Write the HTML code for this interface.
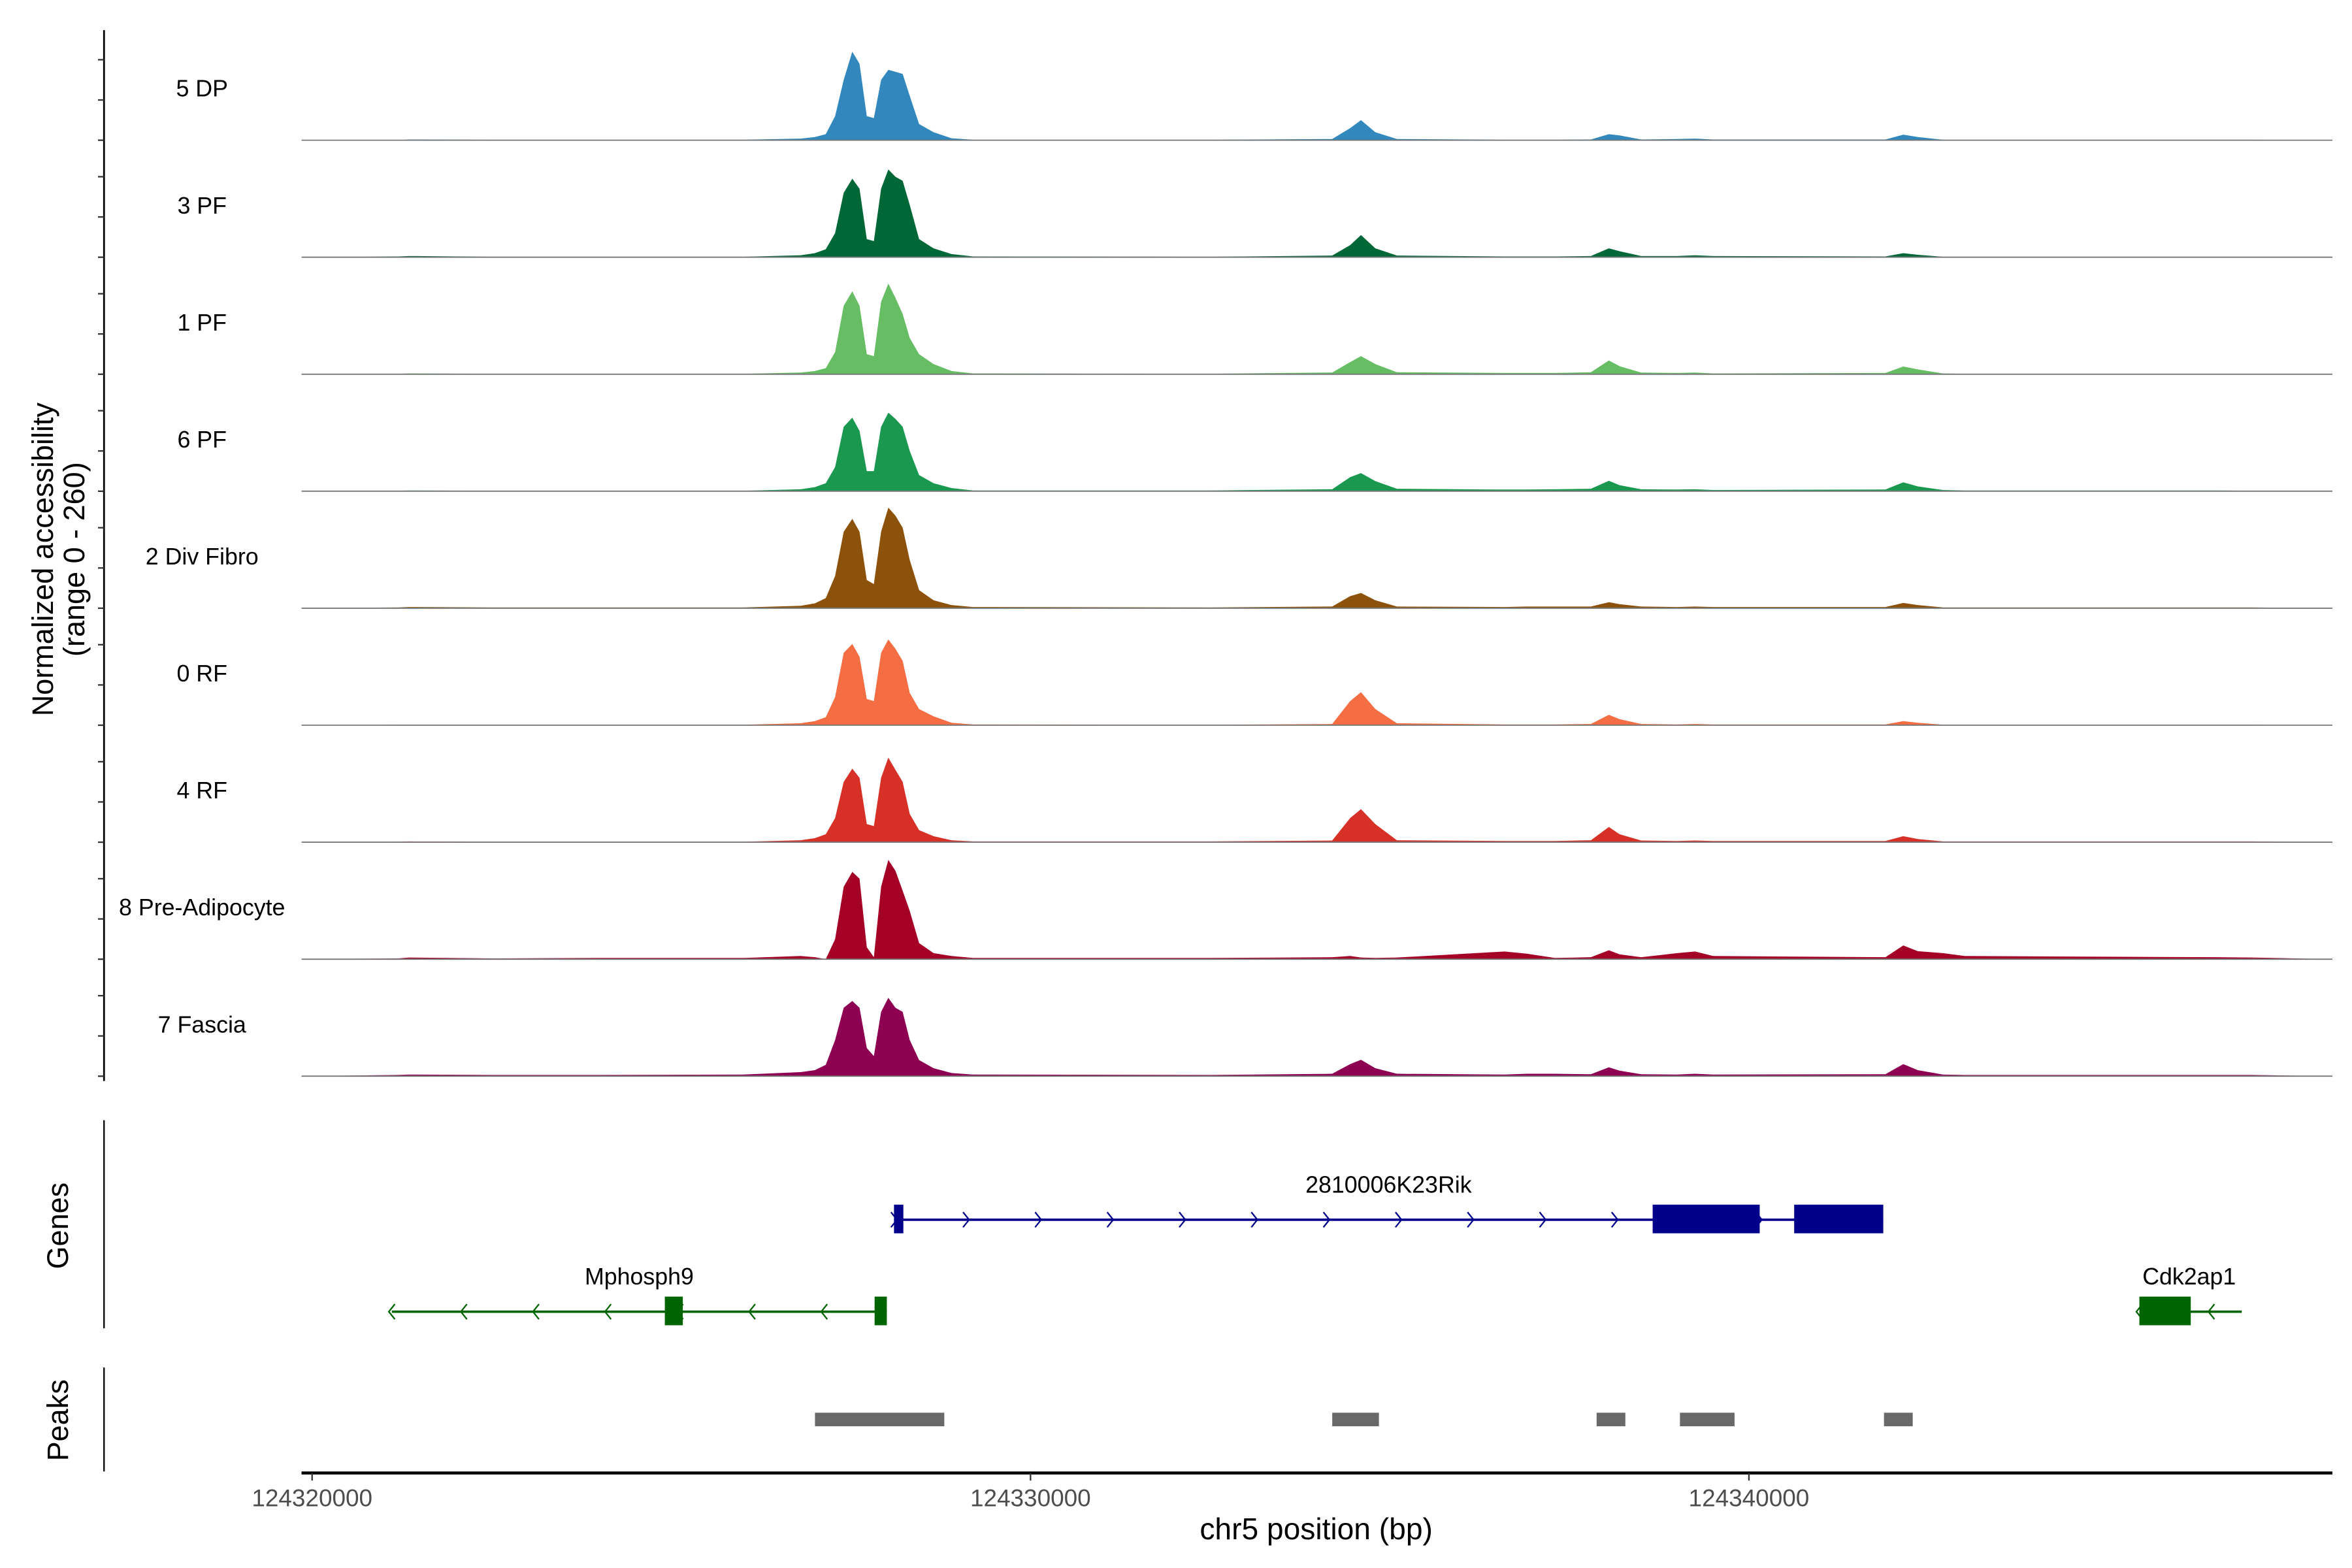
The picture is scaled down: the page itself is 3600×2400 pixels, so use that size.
<!DOCTYPE html>
<html><head><meta charset="utf-8"><style>
html,body{margin:0;padding:0;background:#fff;}
svg{display:block;font-family:"Liberation Sans",Arial,sans-serif;}
</style></head><body>
<svg id="chart" width="3600" height="2400" viewBox="0 0 1560 1040" xmlns="http://www.w3.org/2000/svg">
<g id="tracks"></g>
<g id="axes">
<line x1="69" y1="20" x2="69" y2="717" stroke="#000" stroke-width="1.2"/>
<text transform="translate(35,371) rotate(-90)" text-anchor="middle" font-size="19.5">Normalized accessibility</text>
<text transform="translate(56,371) rotate(-90)" text-anchor="middle" font-size="19.5">(range 0 - 260)</text>
<line x1="69" y1="743" x2="69" y2="881" stroke="#000" stroke-width="1"/>
<text transform="translate(45,813) rotate(-90)" text-anchor="middle" font-size="19.5">Genes</text>
<line x1="69" y1="907" x2="69" y2="976" stroke="#000" stroke-width="1"/>
<text transform="translate(45,942) rotate(-90)" text-anchor="middle" font-size="19.5">Peaks</text>
<line x1="200" y1="977" x2="1547" y2="977" stroke="#000" stroke-width="2"/>
<text x="873" y="1021" text-anchor="middle" font-size="20">chr5 position (bp)</text>
</g>
<g id="genes"></g>
<g id="peaks"></g>
</svg>
<script>
var NS="http://www.w3.org/2000/svg";
var trackNames=["5 DP","3 PF","1 PF","6 PF","2 Div Fibro","0 RF","4 RF","8 Pre-Adipocyte","7 Fascia"];
var trackColors=["#3288BD","#006837","#66BD63","#1A9850","#8C510A","#F46D43","#D73027","#A50026","#8E0152"];
var positionsKb=[-0.15,1.2,1.35,2.5,4.0,6.0,6.8,7.0,7.15,7.28,7.4,7.52,7.62,7.72,7.82,7.92,8.02,8.12,8.22,8.32,8.45,8.65,8.9,9.2,12.5,14.2,14.45,14.6,14.8,15.1,16.6,16.9,17.3,17.8,18.05,18.2,18.5,19.0,19.25,19.5,21.9,22.15,22.35,22.7,23.0,26.5,27.0,28.1];
var valsDP=[0,0,2,1,1,1,4,8,15,60,150,220,190,60,55,150,175,170,165,110,40,20,5,1,1,3,30,50,20,3,1,1,1,2,15,12,2,3,4,2,2,14,8,1,1,1,1,0];
var vals3PF=[0,2,3,1,1,1,5,10,20,60,160,195,170,45,40,170,218,200,190,130,45,22,8,2,1,4,30,55,22,4,2,2,2,3,22,15,3,3,5,3,2,10,6,1,1,1,1,0];
var vals1PF=[0,1,2,1,1,1,4,8,15,55,170,206,170,50,45,180,225,190,150,90,50,25,8,2,1,4,30,45,25,5,3,3,3,5,34,20,4,3,4,2,3,19,12,2,1,1,1,0];
var vals6PF=[0,1,2,1,1,1,5,10,20,60,160,183,150,50,50,160,195,180,160,100,40,20,8,2,2,5,35,45,25,6,4,4,5,6,26,15,5,4,5,3,4,22,12,3,2,2,1,0];
var vals2Div=[0,2,3,2,2,2,6,12,25,80,190,222,190,70,60,190,250,230,200,120,45,20,8,3,2,4,30,38,20,4,3,4,4,4,15,10,4,3,4,3,3,13,8,2,2,2,2,0];
var vals0RF=[0,1,1,1,1,1,5,10,20,70,180,202,170,65,60,180,213,190,160,80,40,22,6,2,1,3,60,82,40,5,2,2,2,3,26,15,3,2,3,2,2,10,6,1,1,1,1,0];
var vals4RF=[0,1,2,1,1,1,5,10,20,60,150,183,160,45,40,160,210,180,150,70,30,15,5,2,2,4,60,82,45,5,3,3,3,5,38,20,4,3,4,3,3,15,8,2,2,2,2,0];
var vals8PA=[0,2,4,2,3,3,8,5,0,50,180,217,200,30,5,180,247,220,170,120,40,15,8,3,3,5,8,4,3,4,19,14,3,5,22,12,5,15,19,8,5,34,20,15,8,5,4,0];
var vals7Fa=[0,3,4,3,3,4,10,15,28,90,170,187,170,70,50,160,195,170,160,90,40,20,8,4,3,6,30,41,20,6,4,6,6,5,22,14,5,4,6,4,5,30,15,4,3,3,3,0];
var trackValues=[valsDP,vals3PF,vals1PF,vals6PF,vals2Div,vals0RF,vals4RF,vals8PA,vals7Fa];
var yMax=260;
var xTicks=[124320000,124330000,124340000];
var peakStarts=[124327000,124334200,124337880,124339040,124341880];
var peakEnds=[124328800,124334850,124338280,124339800,124342280];
var gene1ExonStarts=[124328100,124338660,124340630];
var gene1ExonEnds=[124328230,124340150,124341870];
var gene2ExonStarts=[124324910,124327830];
var gene2ExonEnds=[124325160,124328000];
var gene3ExonStarts=[124345435];
var gene3ExonEnds=[124346150];

function xScale(bp){return 207+(bp-124320000)*476.5/10000;}
function xKb(kb){return xScale(124320000+kb*1000);}
var trackH=69.4, base0=93, step=77.6;
function yScale(v,i){return base0+i*step - v/yMax*trackH;}

var tg=document.getElementById('tracks');
var ax=document.getElementById('axes');
for(var i=0;i<trackNames.length;i++){
  var g=document.createElementNS(NS,'g');
  
  
  var pts=xKb(positionsKb[0]).toFixed(1)+','+yScale(0,i).toFixed(1);
  var vals=trackValues[i];
  for(var j=0;j<positionsKb.length;j++){pts+=' '+xKb(positionsKb[j]).toFixed(1)+','+yScale(vals[j],i).toFixed(1);}
  pts+=' '+xKb(positionsKb[positionsKb.length-1]).toFixed(1)+','+yScale(0,i).toFixed(1);
  var poly=document.createElementNS(NS,'polygon');
  poly.setAttribute('points',pts);
  poly.setAttribute('fill',trackColors[i]);
  
  
  g.appendChild(poly);
  var bl=document.createElementNS(NS,'line');
  bl.setAttribute('x1',200);bl.setAttribute('x2',1547);
  bl.setAttribute('y1',yScale(0,i));bl.setAttribute('y2',yScale(0,i));
  bl.setAttribute('stroke','#777');bl.setAttribute('stroke-width','0.8');
  
  
  g.appendChild(bl);
  var t=document.createElementNS(NS,'text');
  t.setAttribute('x',134);t.setAttribute('y',yScale(0,i)-29);
  t.setAttribute('text-anchor','middle');t.setAttribute('font-size','15.5');
  t.textContent=trackNames[i];
  
  
  g.appendChild(t);
  tg.appendChild(g);
  for(var k=0;k<3;k++){
    var tk=document.createElementNS(NS,'line');
    var ty=yScale(k*100,i);
    tk.setAttribute('x1',65);tk.setAttribute('x2',69);tk.setAttribute('y1',ty);tk.setAttribute('y2',ty);
    tk.setAttribute('stroke','#333');tk.setAttribute('stroke-width','1');
    
    
    ax.appendChild(tk);
  }
}
for(var i=0;i<xTicks.length;i++){
  var x=xScale(xTicks[i]);
  var tk=document.createElementNS(NS,'line');
  tk.setAttribute('x1',x);tk.setAttribute('x2',x);tk.setAttribute('y1',977);tk.setAttribute('y2',982);
  tk.setAttribute('stroke','#333');
  
  
  ax.appendChild(tk);
  var t=document.createElementNS(NS,'text');
  t.setAttribute('x',x);t.setAttribute('y',999);t.setAttribute('text-anchor','middle');
  t.setAttribute('font-size','16');t.setAttribute('fill','#4D4D4D');
  t.textContent=xTicks[i];
  
  
  ax.appendChild(t);
}
var pg=document.getElementById('peaks');
for(var i=0;i<peakStarts.length;i++){
  var r=document.createElementNS(NS,'rect');
  var x1=xScale(peakStarts[i]),x2=xScale(peakEnds[i]);
  r.setAttribute('x',x1);r.setAttribute('width',x2-x1);r.setAttribute('y',937);r.setAttribute('height',9);
  r.setAttribute('fill','#696969');
  
  
  pg.appendChild(r);
}
var gg=document.getElementById('genes');
function drawGene(name,start,end,y,color,starts,ends,dir,label,lx,arrowStep){
  var g=document.createElementNS(NS,'g');
  
  
  var x1=xScale(start),x2=xScale(end);
  var l=document.createElementNS(NS,'line');
  l.setAttribute('x1',x1);l.setAttribute('x2',x2);l.setAttribute('y1',y);l.setAttribute('y2',y);
  l.setAttribute('stroke',color);l.setAttribute('stroke-width','1.6');
  
  
  g.appendChild(l);
  for(var ax2=x1;ax2<=x2+1;ax2+=arrowStep){
    var p=document.createElementNS(NS,'path');
    var d=dir>0?'M'+(ax2-2)+','+(y-5)+' L'+(ax2+2)+','+y+' L'+(ax2-2)+','+(y+5):'M'+(ax2+2)+','+(y-5)+' L'+(ax2-2)+','+y+' L'+(ax2+2)+','+(y+5);
    p.setAttribute('d',d);p.setAttribute('fill','none');p.setAttribute('stroke',color);p.setAttribute('stroke-width','1');
    
    
    g.appendChild(p);
  }
  for(var i=0;i<starts.length;i++){
    var r=document.createElementNS(NS,'rect');
    var a=xScale(starts[i]),b=xScale(ends[i]);
    r.setAttribute('x',a);r.setAttribute('width',Math.max(b-a,5));r.setAttribute('y',y-10);r.setAttribute('height',19);
    r.setAttribute('fill',color);
    
    
    g.appendChild(r);
  }
  var t=document.createElementNS(NS,'text');
  t.setAttribute('x',lx);t.setAttribute('y',y-18);t.setAttribute('text-anchor','middle');t.setAttribute('font-size','15.5');
  t.textContent=label;
  
  
  g.appendChild(t);
  gg.appendChild(g);
}
drawGene('2810006K23Rik',124328100,124341870,809,'#00008B',gene1ExonStarts,gene1ExonEnds,1,'2810006K23Rik',921,47.8);
drawGene('Mphosph9',124321110,124328000,870,'#006400',gene2ExonStarts,gene2ExonEnds,-1,'Mphosph9',424,47.8);
drawGene('Cdk2ap1',124345435,124346860,870,'#006400',gene3ExonStarts,gene3ExonEnds,-1,'Cdk2ap1',1452,47.8);
</script>
</body></html>
